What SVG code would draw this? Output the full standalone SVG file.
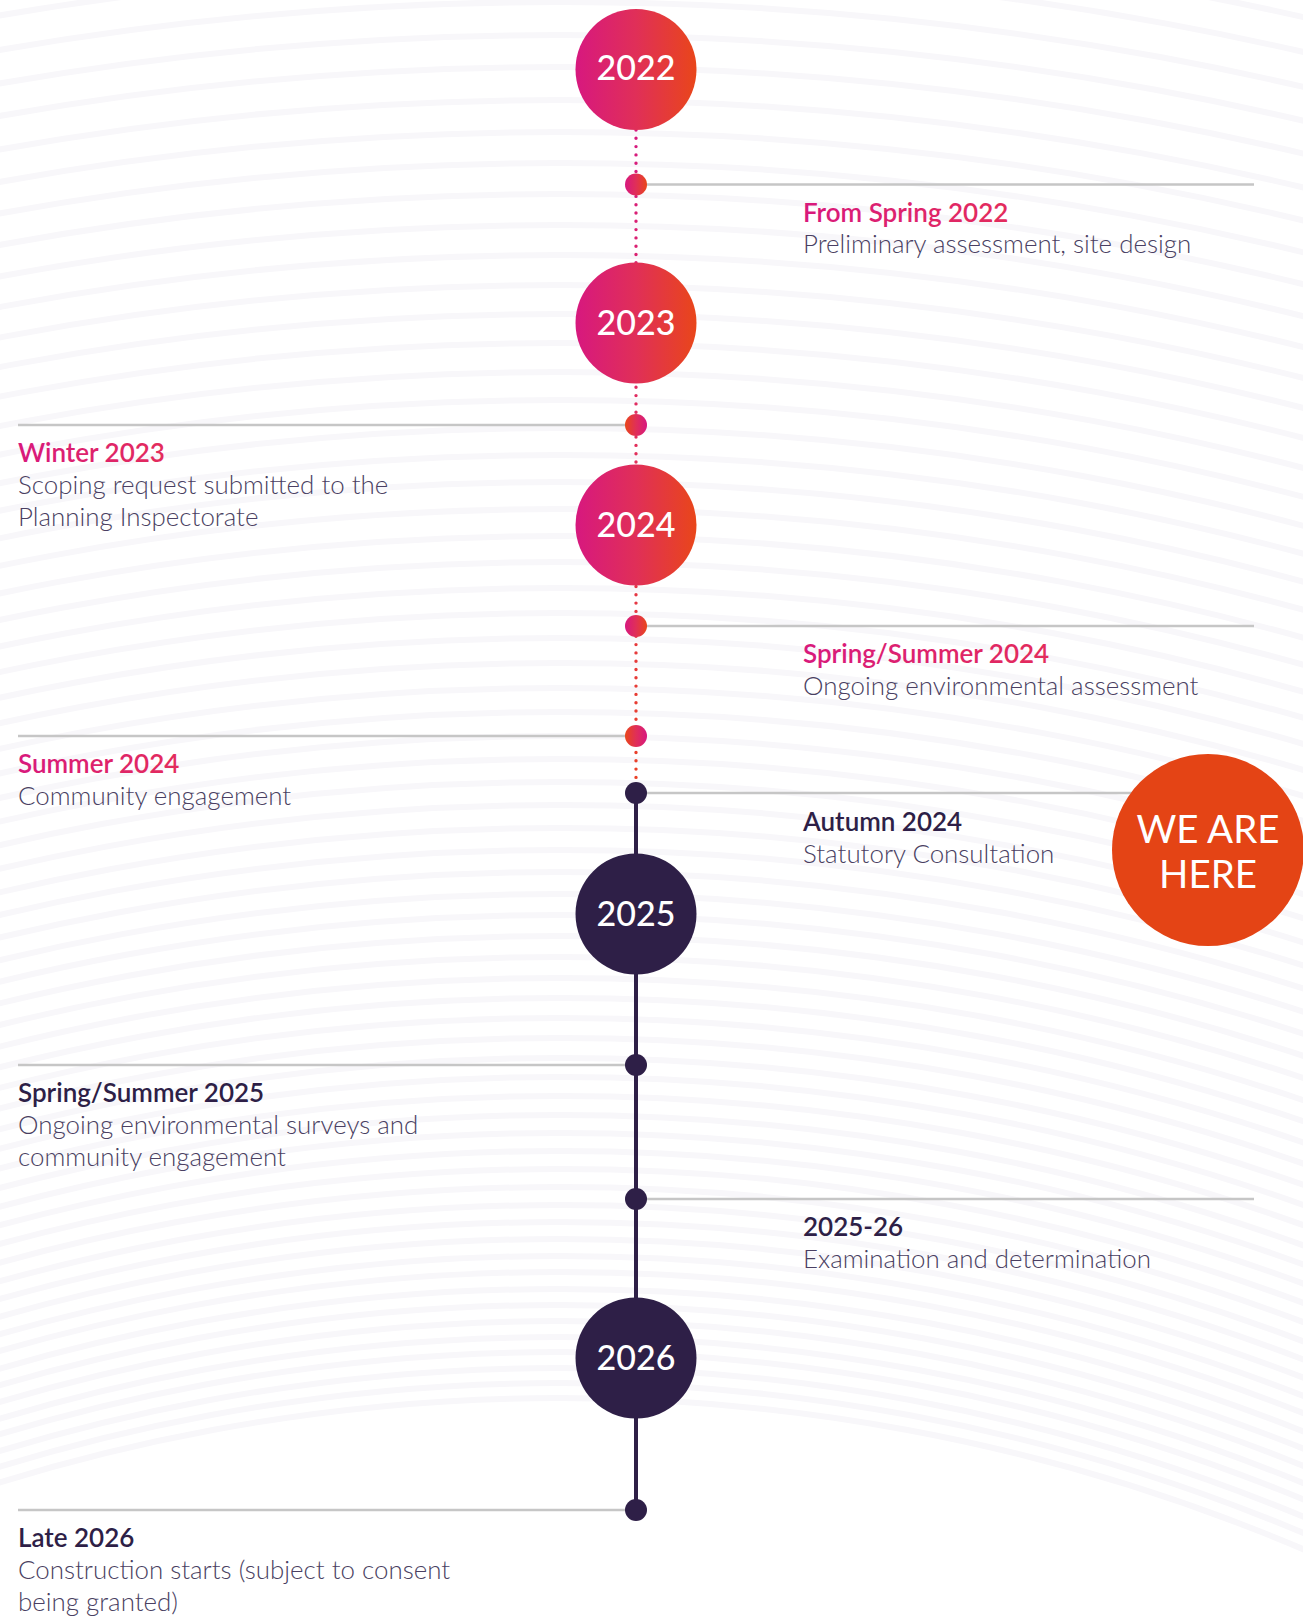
<svg xmlns="http://www.w3.org/2000/svg" width="1303" height="1618" viewBox="0 0 1303 1618">
<defs>
<linearGradient id="gMain" x1="0" y1="0" x2="1" y2="0"><stop offset="0" stop-color="#d7187f"/><stop offset="0.5" stop-color="#e02f58"/><stop offset="1" stop-color="#e9461a"/></linearGradient>
<linearGradient id="gRev" x1="1" y1="0" x2="0" y2="0"><stop offset="0" stop-color="#d7187f"/><stop offset="0.5" stop-color="#e02f58"/><stop offset="1" stop-color="#e9461a"/></linearGradient>
<linearGradient id="gText" x1="0" y1="0" x2="1" y2="0"><stop offset="0" stop-color="#d8197c"/><stop offset="1" stop-color="#e32c5c"/></linearGradient>
<linearGradient id="gDots" gradientUnits="userSpaceOnUse" x1="0" y1="130" x2="0" y2="790"><stop offset="0" stop-color="#d6197f"/><stop offset="0.5" stop-color="#e2305a"/><stop offset="1" stop-color="#ea4226"/></linearGradient>
</defs>
<style>
.bg circle{fill:none;stroke:#f8f7fa;stroke-width:6}
.gray{stroke:#c6c6c6;stroke-width:2.6;fill:none}
.year{font-family:Lato,"Liberation Sans",sans-serif;font-size:34px;font-weight:500;fill:#ffffff;text-anchor:middle}
.tp{font-family:Lato,"Liberation Sans",sans-serif;font-size:26px;font-weight:600;fill:url(#gText)}
.td{font-family:Lato,"Liberation Sans",sans-serif;font-size:26px;font-weight:600;fill:#2e1f47}
.ds{font-family:Lato,"Liberation Sans",sans-serif;font-size:25.9px;font-weight:300;fill:#4a3f62}
.here{font-family:Lato,"Liberation Sans",sans-serif;font-size:38.5px;fill:#ffffff;text-anchor:middle}
.dark{fill:#2e1f47}
</style>
<rect width="1303" height="1618" fill="#ffffff"/>
<g class="bg">
<circle cx="560" cy="3300" r="1902"/><circle cx="560" cy="3300" r="1917"/><circle cx="560" cy="3300" r="1932"/><circle cx="560" cy="3300" r="1948"/><circle cx="560" cy="3300" r="1963"/><circle cx="560" cy="3300" r="1979"/><circle cx="560" cy="3300" r="1995"/><circle cx="560" cy="3300" r="2011"/><circle cx="560" cy="3300" r="2028"/><circle cx="560" cy="3300" r="2044"/><circle cx="560" cy="3300" r="2061"/><circle cx="560" cy="3300" r="2078"/><circle cx="560" cy="3300" r="2095"/><circle cx="560" cy="3300" r="2113"/><circle cx="560" cy="3300" r="2131"/><circle cx="560" cy="3300" r="2149"/><circle cx="560" cy="3300" r="2167"/><circle cx="560" cy="3300" r="2185"/><circle cx="560" cy="3300" r="2204"/><circle cx="560" cy="3300" r="2223"/><circle cx="560" cy="3300" r="2242"/><circle cx="560" cy="3300" r="2262"/><circle cx="560" cy="3300" r="2282"/><circle cx="560" cy="3300" r="2302"/><circle cx="560" cy="3300" r="2322"/><circle cx="560" cy="3300" r="2343"/><circle cx="560" cy="3300" r="2364"/><circle cx="560" cy="3300" r="2385"/><circle cx="560" cy="3300" r="2406"/><circle cx="560" cy="3300" r="2428"/><circle cx="560" cy="3300" r="2450"/><circle cx="560" cy="3300" r="2472"/><circle cx="560" cy="3300" r="2495"/><circle cx="560" cy="3300" r="2518"/><circle cx="560" cy="3300" r="2541"/><circle cx="560" cy="3300" r="2564"/><circle cx="560" cy="3300" r="2588"/><circle cx="560" cy="3300" r="2612"/><circle cx="560" cy="3300" r="2637"/><circle cx="560" cy="3300" r="2662"/><circle cx="560" cy="3300" r="2687"/><circle cx="560" cy="3300" r="2712"/><circle cx="560" cy="3300" r="2738"/><circle cx="560" cy="3300" r="2764"/><circle cx="560" cy="3300" r="2791"/><circle cx="560" cy="3300" r="2818"/><circle cx="560" cy="3300" r="2845"/><circle cx="560" cy="3300" r="2872"/><circle cx="560" cy="3300" r="2900"/><circle cx="560" cy="3300" r="2928"/><circle cx="560" cy="3300" r="2957"/><circle cx="560" cy="3300" r="2986"/><circle cx="560" cy="3300" r="3015"/><circle cx="560" cy="3300" r="3045"/><circle cx="560" cy="3300" r="3075"/><circle cx="560" cy="3300" r="3106"/><circle cx="560" cy="3300" r="3137"/><circle cx="560" cy="3300" r="3168"/><circle cx="560" cy="3300" r="3200"/><circle cx="560" cy="3300" r="3233"/><circle cx="560" cy="3300" r="3265"/><circle cx="560" cy="3300" r="3298"/><circle cx="560" cy="3300" r="3332"/><circle cx="560" cy="3300" r="3366"/><circle cx="560" cy="3300" r="3400"/>
</g>
<g id="connectors">
<line x1="636" y1="130" x2="636" y2="790" stroke="url(#gDots)" stroke-width="3.4" stroke-linecap="round" stroke-dasharray="0 8.3"/>
<line x1="636" y1="793" x2="636" y2="1510" stroke="#2e1f47" stroke-width="4"/>
<line class="gray" x1="636" y1="184.5" x2="1254" y2="184.5"/>
<line class="gray" x1="18" y1="425" x2="636" y2="425"/>
<line class="gray" x1="636" y1="626" x2="1254" y2="626"/>
<line class="gray" x1="18" y1="736" x2="636" y2="736"/>
<line class="gray" x1="636" y1="793" x2="1254" y2="793"/>
<line class="gray" x1="18" y1="1065" x2="636" y2="1065"/>
<line class="gray" x1="636" y1="1199" x2="1254" y2="1199"/>
<line class="gray" x1="18" y1="1510" x2="636" y2="1510"/>
</g>
<g id="y2022"><circle cx="636" cy="69.5" r="60.5" fill="url(#gMain)"/><text class="year" x="636" y="80">2022</text></g>
<g id="y2023"><circle cx="636" cy="323" r="60.5" fill="url(#gMain)"/><text class="year" x="636" y="335">2023</text></g>
<g id="y2024"><circle cx="636" cy="525" r="60.5" fill="url(#gMain)"/><text class="year" x="636" y="537">2024</text></g>
<g id="y2025"><circle cx="636" cy="914" r="60.5" class="dark"/><text class="year" x="636" y="926">2025</text></g>
<g id="y2026"><circle cx="636" cy="1358" r="60.5" class="dark"/><text class="year" x="636" y="1370">2026</text></g>
<g id="e1"><circle cx="636" cy="184.5" r="11" fill="url(#gMain)"/><text class="tp" x="803" y="222">From Spring 2022</text><text class="ds" x="803" y="253">Preliminary assessment, site design</text></g>
<g id="e2"><circle cx="636" cy="425" r="11" fill="url(#gRev)"/><text class="tp" x="18" y="462">Winter 2023</text><text class="ds" x="18" y="494">Scoping request submitted to the</text><text class="ds" x="18" y="526">Planning Inspectorate</text></g>
<g id="e3"><circle cx="636" cy="626" r="11" fill="url(#gMain)"/><text class="tp" x="803" y="663">Spring/Summer 2024</text><text class="ds" x="803" y="695">Ongoing environmental assessment</text></g>
<g id="e4"><circle cx="636" cy="736" r="11" fill="url(#gRev)"/><text class="tp" x="18" y="773">Summer 2024</text><text class="ds" x="18" y="805">Community engagement</text></g>
<g id="e5"><circle cx="636" cy="793" r="11" class="dark"/><text class="td" x="803" y="831">Autumn 2024</text><text class="ds" x="803" y="863">Statutory Consultation</text></g>
<g id="e6"><circle cx="636" cy="1065" r="11" class="dark"/><text class="td" x="18" y="1102">Spring/Summer 2025</text><text class="ds" x="18" y="1134">Ongoing environmental surveys and</text><text class="ds" x="18" y="1166">community engagement</text></g>
<g id="e7"><circle cx="636" cy="1199" r="11" class="dark"/><text class="td" x="803" y="1236">2025-26</text><text class="ds" x="803" y="1268">Examination and determination</text></g>
<g id="e8"><circle cx="636" cy="1510" r="11" class="dark"/><text class="td" x="18" y="1547">Late 2026</text><text class="ds" x="18" y="1579">Construction starts (subject to consent</text><text class="ds" x="18" y="1611">being granted)</text></g>
<g id="here"><circle cx="1208" cy="850" r="96" fill="#e44415"/><text class="here" x="1208" y="843">WE ARE</text><text class="here" x="1208" y="888">HERE</text></g>
</svg>
